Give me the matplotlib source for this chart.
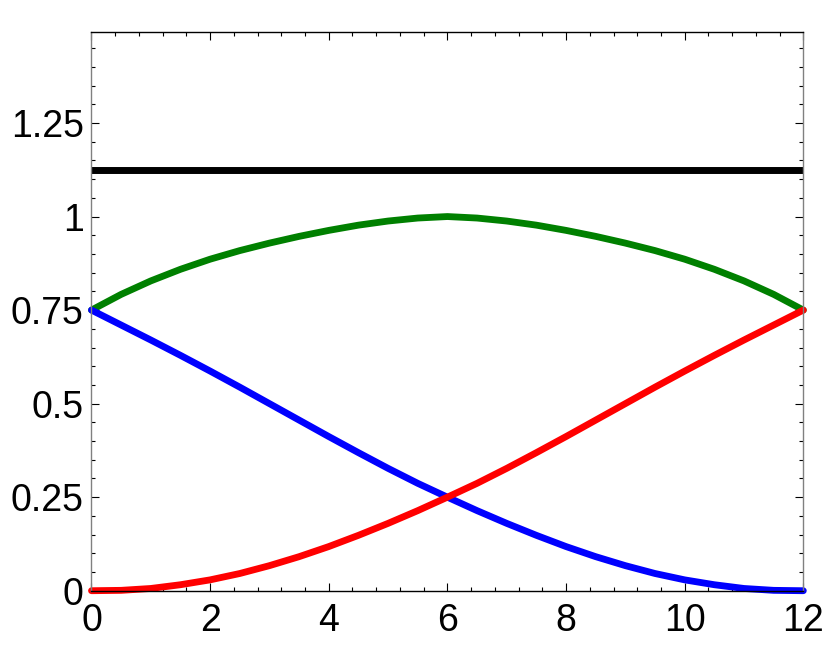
import matplotlib
matplotlib.use("Agg")
import matplotlib.pyplot as plt
from matplotlib.ticker import MultipleLocator, FixedLocator, FuncFormatter

plt.rcParams['font.family'] = ['Liberation Sans', 'DejaVu Sans']

x = [0, 0.5, 1, 1.5, 2, 2.5, 3, 3.5, 4, 4.5, 5, 5.5, 6,
     6.5, 7, 7.5, 8, 8.5, 9, 9.5, 10, 10.5, 11, 11.5, 12]

blue = [0.75, 0.71, 0.67, 0.629, 0.587, 0.544, 0.50, 0.456, 0.412, 0.369, 0.327, 0.287, 0.25,
        0.214, 0.18, 0.148, 0.118, 0.091, 0.067, 0.046, 0.029, 0.016, 0.006, 0.001, 0.0]
red = [0.0, 0.001, 0.006, 0.016, 0.029, 0.046, 0.067, 0.091, 0.118, 0.148, 0.18, 0.214, 0.25,
       0.287, 0.327, 0.369, 0.412, 0.456, 0.50, 0.544, 0.587, 0.629, 0.67, 0.71, 0.75]
green = [0.75, 0.792, 0.828, 0.859, 0.886, 0.909, 0.929, 0.947, 0.963, 0.977, 0.988, 0.996, 1.0,
         0.996, 0.988, 0.977, 0.963, 0.947, 0.929, 0.909, 0.886, 0.859, 0.828, 0.792, 0.75]
black_level = 1.125

xticks = [0, 2, 4, 6, 8, 10, 12]
yticks = [0, 0.25, 0.5, 0.75, 1, 1.25]

fig = plt.figure(figsize=(8.31, 6.51), dpi=100)
ax = fig.add_axes([0.1101, 0.0926, 0.9667 - 0.1101, 0.9513 - 0.0926])

lw = 4.9
ax.plot([x[0], x[-1]], [black_level, black_level], color='black', lw=5.0,
        solid_capstyle='butt', clip_on=False)
ax.plot(x, green, color='#008000', lw=lw, solid_capstyle='round', clip_on=False)
ax.plot(x, blue, color='#0000ff', lw=lw, solid_capstyle='round', clip_on=False)
ax.plot(x, red, color='#ff0000', lw=lw, solid_capstyle='round', clip_on=False)

ax.set_xlim(0, 12)
ax.set_ylim(0, 1.494)

ax.xaxis.set_major_locator(FixedLocator(xticks))
ax.yaxis.set_major_locator(FixedLocator(yticks))
ax.xaxis.set_minor_locator(MultipleLocator(0.4))
ax.yaxis.set_minor_locator(MultipleLocator(0.05))

fmt = FuncFormatter(lambda v, p: ('%g' % v))
ax.xaxis.set_major_formatter(fmt)
ax.yaxis.set_major_formatter(fmt)

ax.tick_params(which='both', direction='in', top=True, right=True, color='black', width=0.8)
ax.tick_params(which='major', length=5.8)
ax.tick_params(which='minor', length=2.9)
ax.tick_params(axis='x', which='major', labelsize=27, pad=9)
ax.tick_params(axis='y', which='major', labelsize=27, pad=5.5)

for side in ['left', 'right']:
    ax.spines[side].set_color('0.5')
    ax.spines[side].set_linewidth(1.0)
for side in ['top', 'bottom']:
    ax.spines[side].set_color('black')
    ax.spines[side].set_linewidth(1.0)

fig.savefig('out.png', dpi=100)
